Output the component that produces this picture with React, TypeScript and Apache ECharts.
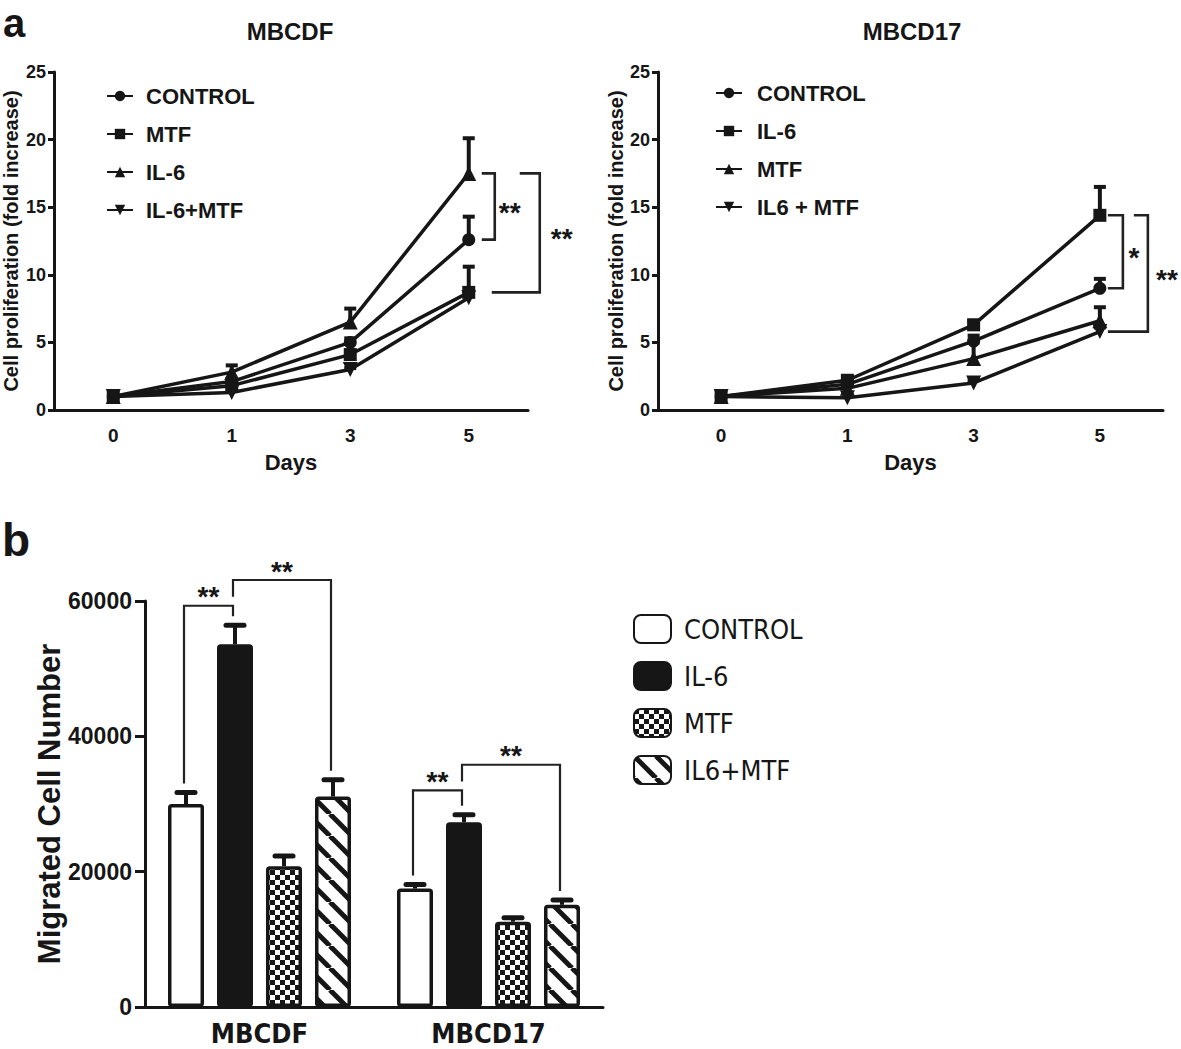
import React, { useEffect, useRef } from 'react';
import * as echarts from 'echarts';

// ---------- data ----------
const DAYS = ['0', '1', '3', '5'];
const FOLD_MIN = 0;
const FOLD_MAX = 25;
const FOLD_STEP = 5;

// Panel a, MBCDF
const MBCDF_NAMES = ['CONTROL', 'MTF', 'IL-6', 'IL-6+MTF'];
const MBCDF_CONTROL = [1, 2.1, 5.0, 12.6];
const MBCDF_CONTROL_ERR = [0, 0.2, 0.3, 1.7];
const MBCDF_MTF = [1, 1.8, 4.1, 8.7];
const MBCDF_MTF_ERR = [0, 0.1, 0.3, 1.9];
const MBCDF_IL6 = [1, 2.8, 6.5, 17.5];
const MBCDF_IL6_ERR = [0, 0.5, 1.0, 2.6];
const MBCDF_IL6MTF = [1, 1.3, 3.0, 8.3];
const MBCDF_IL6MTF_ERR = [0, 0, 0.1, 0.3];

// Panel a, MBCD17
const MBCD17_NAMES = ['CONTROL', 'IL-6', 'MTF', 'IL6 + MTF'];
const MBCD17_CONTROL = [1, 1.9, 5.1, 9.0];
const MBCD17_CONTROL_ERR = [0, 0.2, 0.4, 0.7];
const MBCD17_IL6 = [1, 2.2, 6.3, 14.4];
const MBCD17_IL6_ERR = [0, 0.3, 0.3, 2.1];
const MBCD17_MTF = [1, 1.6, 3.8, 6.6];
const MBCD17_MTF_ERR = [0, 0.2, 1.2, 1.0];
const MBCD17_IL6MTF = [1, 0.9, 2.0, 5.8];
const MBCD17_IL6MTF_ERR = [0, 0, 0.2, 0.3];

// Panel b
const CELL_LINES = ['MBCDF', 'MBCD17'];
const BAR_NAMES = ['CONTROL', 'IL-6', 'MTF', 'IL6+MTF'];
const MIG_CONTROL = [30000, 17500];
const MIG_CONTROL_ERR = [1700, 600];
const MIG_IL6 = [53600, 27300];
const MIG_IL6_ERR = [2800, 1100];
const MIG_MTF = [20800, 12600];
const MIG_MTF_ERR = [1500, 600];
const MIG_IL6MTF = [31100, 15100];
const MIG_IL6MTF_ERR = [2500, 700];
const MIG_MIN = 0;
const MIG_MAX = 60000;
const MIG_STEP = 20000;

// significance annotations (day index 3 = day 5)
const MBCDF_SIG = [
  { upper: MBCDF_IL6[3], lower: MBCDF_CONTROL[3], label: '**' },
  { upper: MBCDF_IL6[3], lower: MBCDF_MTF[3], label: '**' },
];
const MBCD17_SIG = [
  { upper: MBCD17_IL6[3], lower: MBCD17_CONTROL[3], label: '*' },
  { upper: MBCD17_IL6[3], lower: MBCD17_IL6MTF[3], label: '**' },
];
const MIG_SIG = [
  { group: 0, from: 0, to: 1, level: 59300, label: '**' },
  { group: 0, from: 1, to: 3, level: 63100, label: '**' },
  { group: 1, from: 0, to: 1, level: 32000, label: '**' },
  { group: 1, from: 1, to: 3, level: 35800, label: '**' },
];

// ---------- styles ----------
const INK = '#161616';
const FONT = "'Liberation Sans', Arial, Helvetica, sans-serif";
const NARROW = "'Liberation Sans Narrow', 'Arial Narrow', 'DejaVu Sans Condensed', 'Liberation Sans', sans-serif";

function makeChecker() {
  const c = document.createElement('canvas');
  c.width = 10; c.height = 10;
  const ctx = c.getContext('2d')!;
  ctx.fillStyle = '#ffffff'; ctx.fillRect(0, 0, 10, 10);
  ctx.fillStyle = INK; ctx.fillRect(0, 0, 5, 5); ctx.fillRect(5, 5, 5, 5);
  return c.toDataURL();
}
function makeStripes() {
  const s = 22;
  const c = document.createElement('canvas');
  c.width = s; c.height = s;
  const ctx = c.getContext('2d')!;
  ctx.fillStyle = '#ffffff'; ctx.fillRect(0, 0, s, s);
  ctx.strokeStyle = INK; ctx.lineWidth = 5;
  for (const k of [-s, 0, s]) {
    ctx.beginPath(); ctx.moveTo(k, 0); ctx.lineTo(k + s, s); ctx.stroke();
  }
  return c.toDataURL();
}

const SYMBOLS = [
  { symbol: 'circle', size: 13, rotate: 0 },
  { symbol: 'rect', size: 13, rotate: 0 },
  { symbol: 'triangle', size: 15, rotate: 0 },
  { symbol: 'triangle', size: 15, rotate: 180 },
];

function lineSeries(prefix: string, names: string[], values: number[][], axis: number) {
  return names.map((n, i) => ({
    type: 'line',
    name: prefix + '|' + n,
    xAxisIndex: axis,
    yAxisIndex: axis,
    data: values[i],
    symbol: SYMBOLS[i].symbol,
    symbolSize: SYMBOLS[i].size,
    symbolRotate: SYMBOLS[i].rotate,
    lineStyle: { color: INK, width: 3.5 },
    itemStyle: { color: INK },
    z: 4,
    silent: true,
  }));
}

function lineErrSeries(values: number[][], errs: number[][], axis: number) {
  const data: number[][] = [];
  values.forEach((vals, i) => vals.forEach((v, j) => {
    if (errs[i][j] > 0) data.push([j, v, errs[i][j]]);
  }));
  return {
    type: 'custom',
    xAxisIndex: axis,
    yAxisIndex: axis,
    data,
    z: 3,
    silent: true,
    encode: { x: 0, y: 1 },
    renderItem: (_p: any, api: any) => {
      const x = api.value(0), v = api.value(1), e = api.value(2);
      const a = api.coord([x, v]);
      const b = api.coord([x, v + e]);
      return {
        type: 'group',
        children: [
          { type: 'line', shape: { x1: a[0], y1: a[1], x2: b[0], y2: b[1] }, style: { stroke: INK, lineWidth: 4 } },
          { type: 'line', shape: { x1: b[0] - 6, y1: b[1], x2: b[0] + 6, y2: b[1] }, style: { stroke: INK, lineWidth: 4 } },
        ],
      };
    },
  };
}

const BAR_W = 36;
const BAR_GAP = 13;
const BAR_STEP = BAR_W + BAR_GAP;
const barOffset = (s: number) => (s - 1.5) * BAR_STEP;

function lineGrid(axis: number, nameGap: number) {
  return {
    x: {
      type: 'category', gridIndex: axis, data: DAYS, boundaryGap: true,
      name: 'Days', nameLocation: 'middle', nameGap: 41,
      nameTextStyle: { fontFamily: FONT, fontWeight: 'bold', fontSize: 22, color: INK },
      axisLine: { lineStyle: { color: INK, width: 3 } },
      axisTick: { alignWithLabel: true, length: 6, lineStyle: { color: INK, width: 3 } },
      axisLabel: { fontFamily: FONT, fontWeight: 'bold', fontSize: 19, color: INK, margin: 16 },
      splitLine: { show: false },
    },
    y: {
      type: 'value', gridIndex: axis, min: FOLD_MIN, max: FOLD_MAX, interval: FOLD_STEP,
      name: 'Cell proliferation (fold increase)', nameLocation: 'middle', nameGap: nameGap,
      nameMoveOverlap: false,
      nameTextStyle: { fontFamily: FONT, fontWeight: 'bold', fontSize: 20, color: INK },
      axisLine: { show: true, lineStyle: { color: INK, width: 3 } },
      axisTick: { show: true, length: 6, lineStyle: { color: INK, width: 3 } },
      axisLabel: { fontFamily: FONT, fontWeight: 'bold', fontSize: 18, color: INK, margin: 8 },
      splitLine: { show: false },
    },
  };
}

export default function App() {
  const ref = useRef<HTMLDivElement>(null);
  useEffect(() => {
    if (!ref.current) return;
    const chart = echarts.init(ref.current, null, { renderer: 'svg' });
    const checker = makeChecker();
    const stripes = makeStripes();
    const fills: any[] = [
      '#ffffff',
      INK,
      { image: checker, repeat: 'repeat', imageWidth: 10, imageHeight: 10 },
      { image: stripes, repeat: 'repeat', imageWidth: 22, imageHeight: 22 },
    ];
    const g0 = lineGrid(0, 33);
    const g1 = lineGrid(1, 32);

    const migVals = [MIG_CONTROL, MIG_IL6, MIG_MTF, MIG_IL6MTF];
    const migErrs = [MIG_CONTROL_ERR, MIG_IL6_ERR, MIG_MTF_ERR, MIG_IL6MTF_ERR];
    const barErrData: number[][] = [];
    migVals.forEach((vals, s) => vals.forEach((v, g) => barErrData.push([g, v, migErrs[s][g], s])));

    const lineLegend = (prefix: string, names: string[], left: number, top: number, pad: number) => ({
      orient: 'vertical', left, top, padding: 0,
      data: names.map((n) => prefix + '|' + n),
      formatter: (n: string) => n.split('|')[1],
      itemWidth: 26, itemHeight: 13, itemGap: 16,
      selectedMode: false,
      textStyle: { fontFamily: FONT, fontWeight: 'bold', fontSize: 22, color: INK, lineHeight: 22, padding: [0, 0, 0, pad] },
    });

    const option: any = {
      animation: false,
      backgroundColor: '#ffffff',
      grid: [
        { left: 52, top: 72, width: 476, height: 338 },
        { left: 658, top: 72, width: 505, height: 338 },
        { left: 145, top: 601, width: 458, height: 406 },
      ],
      xAxis: [
        g0.x, g1.x,
        {
          type: 'category', gridIndex: 2, data: CELL_LINES, boundaryGap: true,
          axisLine: { lineStyle: { color: INK, width: 3 } },
          axisTick: { alignWithLabel: true, length: 11, lineStyle: { color: INK, width: 3 } },
          axisLabel: { fontFamily: NARROW, fontWeight: 'bold', fontSize: 27, lineHeight: 27, color: INK, margin: 13 },
        },
      ],
      yAxis: [
        g0.y, g1.y,
        {
          type: 'value', gridIndex: 2, min: MIG_MIN, max: MIG_MAX, interval: MIG_STEP,
          name: 'Migrated Cell Number', nameLocation: 'middle', nameGap: 80,
          nameMoveOverlap: false,
          nameTextStyle: { fontFamily: FONT, fontWeight: 'bold', fontSize: 31, color: INK },
          axisLine: { show: true, lineStyle: { color: INK, width: 3 } },
          axisTick: { show: true, length: 10, lineStyle: { color: INK, width: 3 } },
          axisLabel: { fontFamily: FONT, fontWeight: 'bold', fontSize: 23, color: INK, margin: 13, formatter: (v: number) => String(v) },
          splitLine: { show: false },
        },
      ],
      legend: [
        lineLegend('L', MBCDF_NAMES, 106, 85, 8),
        lineLegend('R', MBCD17_NAMES, 715, 82, 10),
        {
          orient: 'vertical', left: 633, top: 614, padding: 0,
          data: BAR_NAMES.map((n) => 'B|' + n),
          formatter: (n: string) => n.split('|')[1],
          icon: 'roundRect',
          itemWidth: 37, itemHeight: 28, itemGap: 17,
          selectedMode: false,
          textStyle: { fontFamily: NARROW, fontSize: 27, color: INK, lineHeight: 28, padding: [0, 0, 0, 8] },
        },
      ],
      series: [
        ...lineSeries('L', MBCDF_NAMES, [MBCDF_CONTROL, MBCDF_MTF, MBCDF_IL6, MBCDF_IL6MTF], 0),
        lineErrSeries([MBCDF_CONTROL, MBCDF_MTF, MBCDF_IL6, MBCDF_IL6MTF],
          [MBCDF_CONTROL_ERR, MBCDF_MTF_ERR, MBCDF_IL6_ERR, MBCDF_IL6MTF_ERR], 0),
        ...lineSeries('R', MBCD17_NAMES, [MBCD17_CONTROL, MBCD17_IL6, MBCD17_MTF, MBCD17_IL6MTF], 1),
        lineErrSeries([MBCD17_CONTROL, MBCD17_IL6, MBCD17_MTF, MBCD17_IL6MTF],
          [MBCD17_CONTROL_ERR, MBCD17_IL6_ERR, MBCD17_MTF_ERR, MBCD17_IL6MTF_ERR], 1),
        ...BAR_NAMES.map((n, i) => ({
          type: 'bar', name: 'B|' + n, xAxisIndex: 2, yAxisIndex: 2,
          data: migVals[i], barWidth: BAR_W, barGap: (BAR_GAP / BAR_W * 100).toFixed(1) + '%',
          itemStyle: { color: fills[i], borderColor: INK, borderWidth: 3.5, borderRadius: 2 },
          z: 3, silent: true,
        })),
        {
          type: 'custom', xAxisIndex: 2, yAxisIndex: 2, data: barErrData, z: 2, silent: true,
          encode: { x: 0, y: 1 },
          renderItem: (_p: any, api: any) => {
            const g = api.value(0), v = api.value(1), e = api.value(2), s = api.value(3);
            const a = api.coord([g, v]);
            const b = api.coord([g, v + e]);
            const x = a[0] + barOffset(s);
            return {
              type: 'group',
              children: [
                { type: 'line', shape: { x1: x, y1: a[1], x2: x, y2: b[1] }, style: { stroke: INK, lineWidth: 4 } },
                { type: 'line', shape: { x1: x - 9, y1: b[1], x2: x + 9, y2: b[1] }, style: { stroke: INK, lineWidth: 5, lineCap: 'round' } },
              ],
            };
          },
        },
      ],
    };
    chart.setOption(option);

    // ----- annotations computed through the axes -----
    const els: any[] = [];
    const starFont = `bold 28px ${FONT}`;
    const text = (t: string, x: number, y: number, font: string, dy = 0) => ({
      type: 'text', x, y: y + dy, silent: true,
      style: { text: t, font, fill: INK, textAlign: 'center', textVerticalAlign: 'middle', align: 'center', verticalAlign: 'middle' },
    });
    const poly = (pts: number[][], w = 2.4) => ({
      type: 'polyline', silent: true, shape: { points: pts }, style: { stroke: '#222', lineWidth: w, fill: null },
    });

    const topBr = (grid: number, sig: any[], layout: any[]) => {
      sig.forEach((b, i) => {
        const L = layout[i];
        const pu = chart.convertToPixel({ gridIndex: grid }, [3, b.upper]) as number[];
        const pl = chart.convertToPixel({ gridIndex: grid }, [3, b.lower]) as number[];
        const x = pu[0];
        els.push(poly([[x + L.ts, pu[1]], [x + L.v, pu[1]], [x + L.v, pl[1]], [x + L.bs, pl[1]]], 2.6));
        els.push(text(b.label, x + L.lx, (pu[1] + pl[1]) / 2, starFont, 6));
      });
    };
    topBr(0, MBCDF_SIG, [{ ts: 13, bs: 13, v: 26, lx: 41 }, { ts: 51, bs: 23, v: 71, lx: 93 }]);
    topBr(1, MBCD17_SIG, [{ ts: 8, bs: 8, v: 23, lx: 34 }, { ts: 34, bs: 8, v: 48, lx: 67 }]);

    MIG_SIG.forEach((b) => {
      const yLevel = (chart.convertToPixel({ gridIndex: 2 }, [b.group, b.level]) as number[])[1];
      const legBottom = (s: number) => {
        const lower = MIG_SIG.filter((o) => o !== b && o.group === b.group && o.level < b.level && o.from <= s && o.to >= s);
        if (lower.length) {
          const lv = Math.max(...lower.map((o) => o.level));
          return (chart.convertToPixel({ gridIndex: 2 }, [b.group, lv]) as number[])[1] - 9;
        }
        const top = migVals[s][b.group] + migErrs[s][b.group];
        return (chart.convertToPixel({ gridIndex: 2 }, [b.group, top]) as number[])[1] - 9;
      };
      const cx = (chart.convertToPixel({ gridIndex: 2 }, [b.group, 0]) as number[])[0];
      const x1 = cx + barOffset(b.from) - 2;
      const x2 = cx + barOffset(b.to) - 2;
      els.push(poly([[x1, legBottom(b.from)], [x1, yLevel], [x2, yLevel], [x2, legBottom(b.to)]], 2.2));
      els.push(text(b.label, (x1 + x2) / 2, yLevel - 15, starFont, 6));
    });

    els.push(text('MBCDF', 290, 31, `bold 24px ${FONT}`));
    els.push(text('MBCD17', 912, 31, `bold 24px ${FONT}`));
    els.push({ type: 'text', x: 3, y: 3, silent: true, style: { text: 'a', font: `bold 40px ${FONT}`, fill: INK } });
    els.push({ type: 'text', x: 2, y: 517, silent: true, style: { text: 'b', font: `bold 46px ${FONT}`, fill: INK } });

    chart.setOption({ graphic: els });
    return () => chart.dispose();
  }, []);
  return <div ref={ref} style={{ position: 'absolute', left: 0, top: 0, width: 1181, height: 1049, background: '#fff' }} />;
}
